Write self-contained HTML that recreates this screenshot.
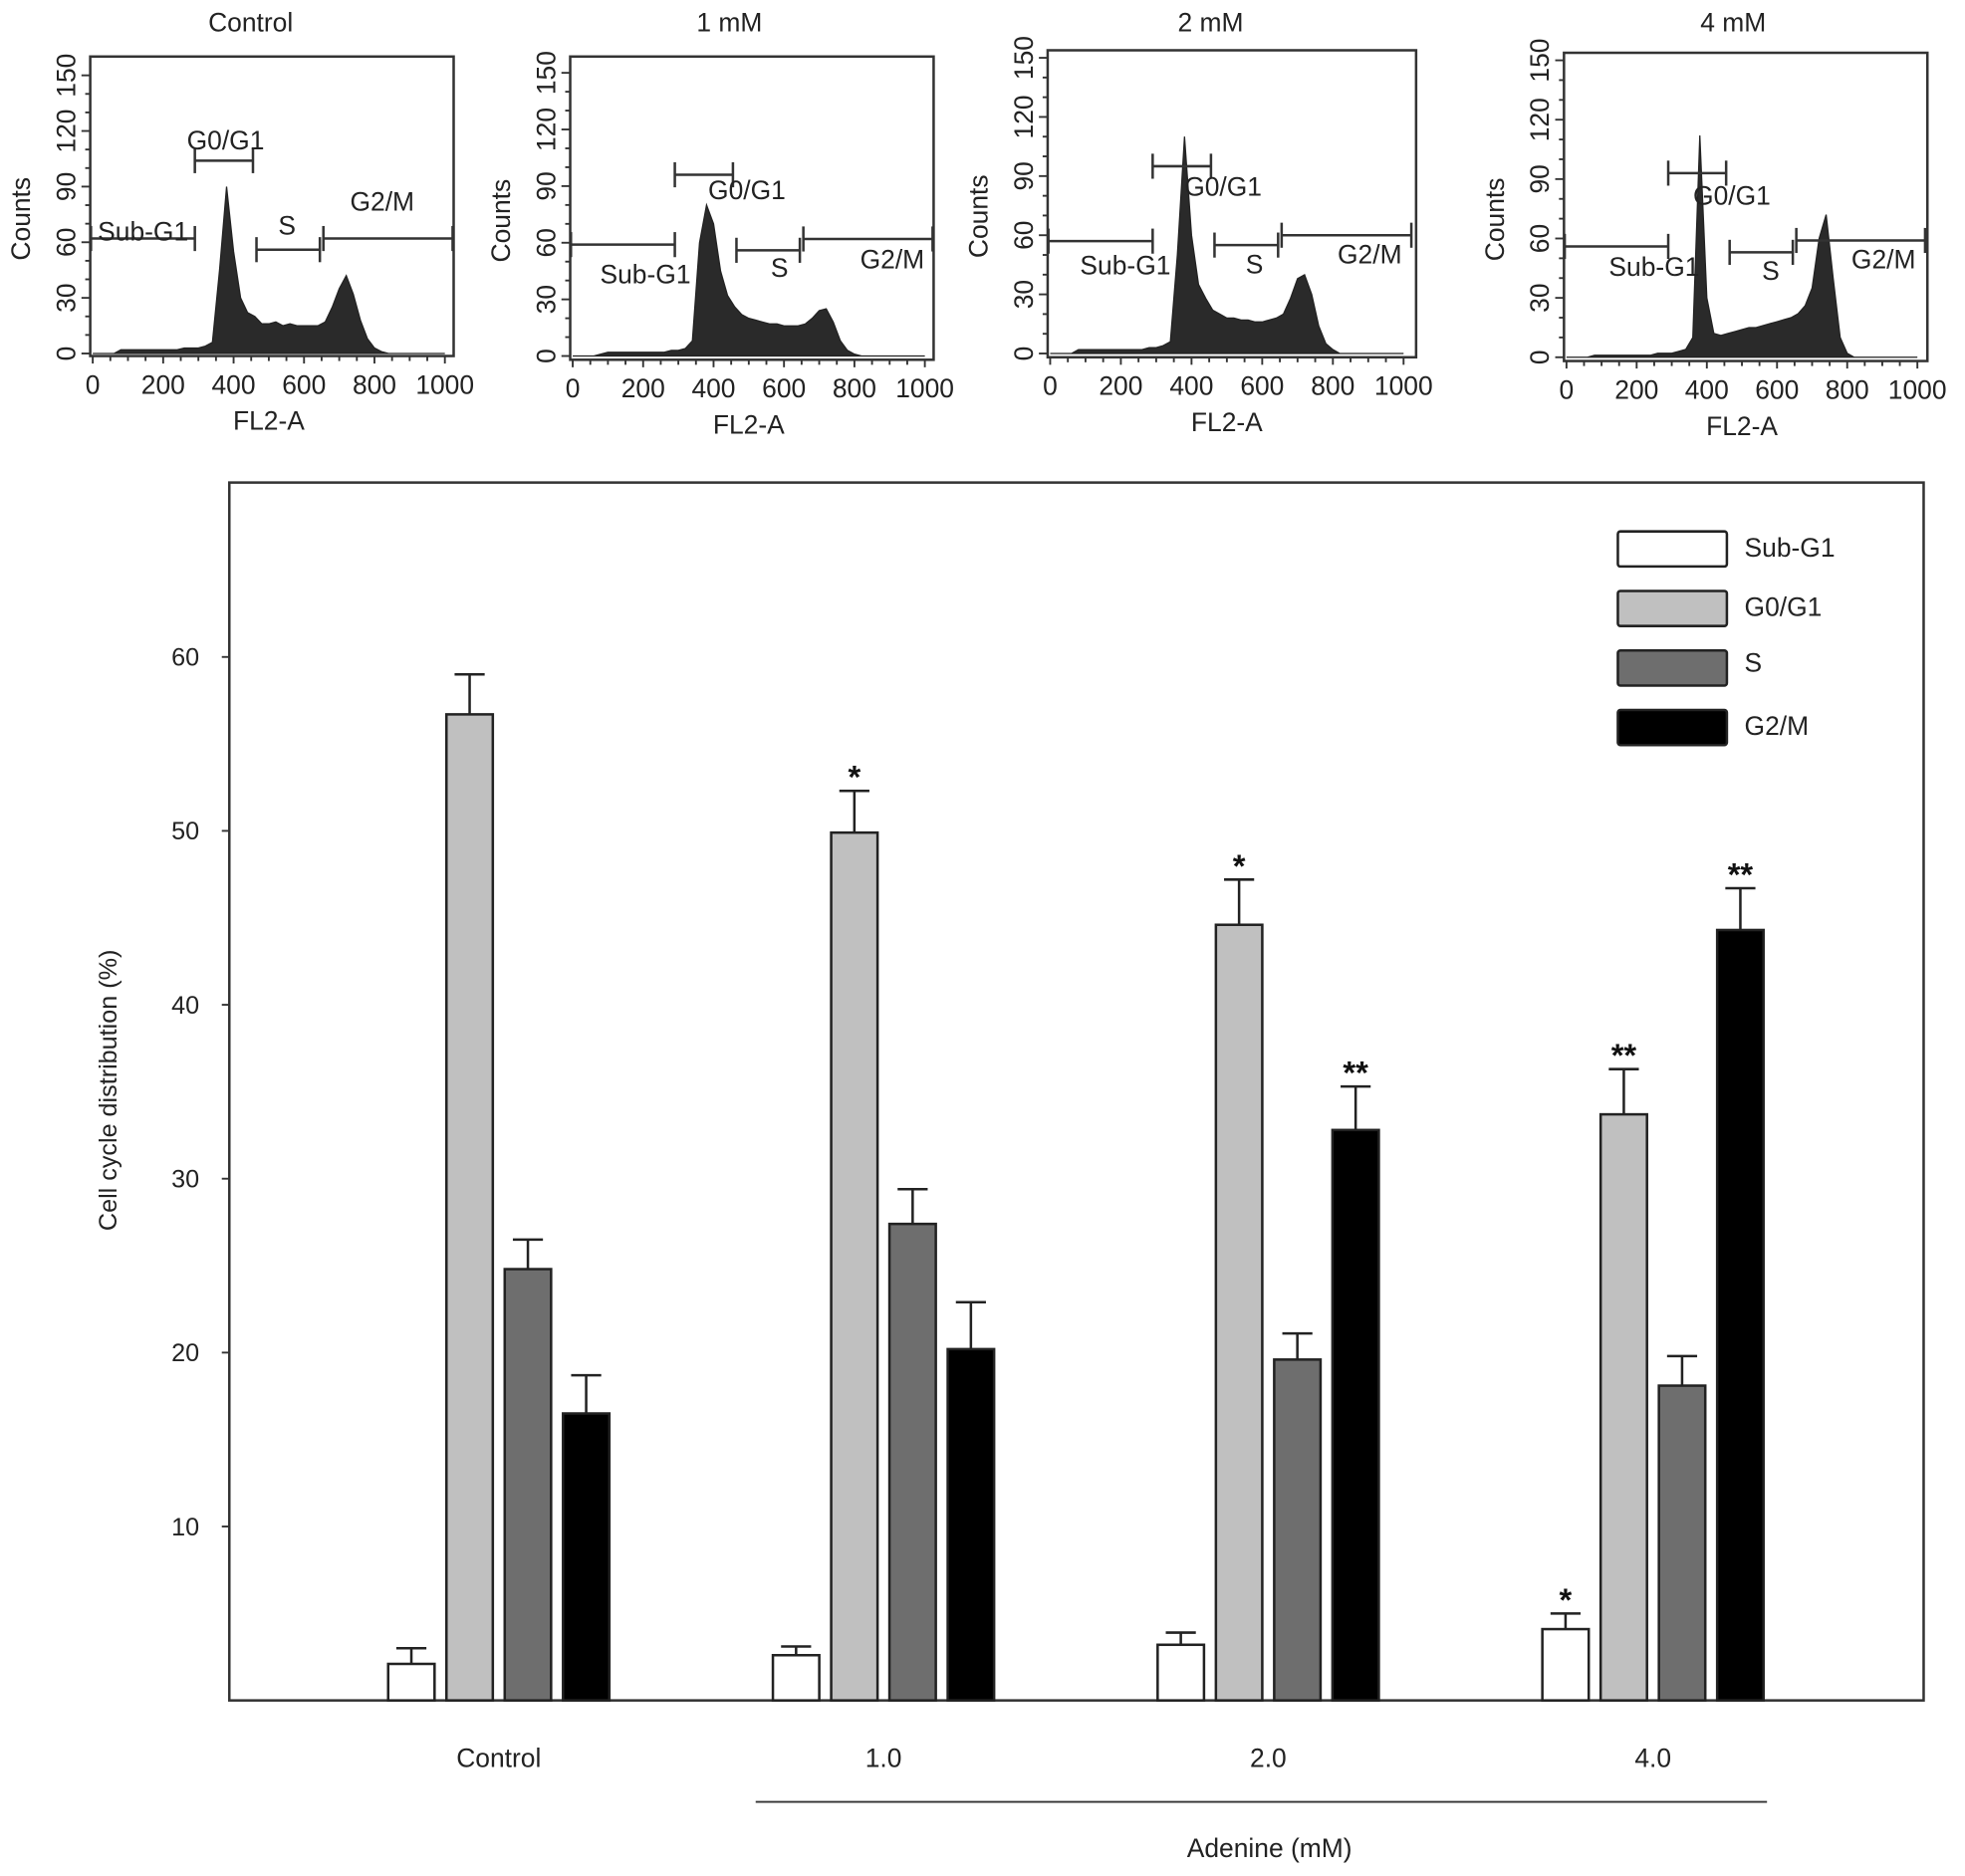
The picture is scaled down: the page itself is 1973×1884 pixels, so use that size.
<!DOCTYPE html>
<html><head><meta charset="utf-8"><style>
html,body{margin:0;padding:0;background:#fff;}
svg{display:block;font-family:"Liberation Sans",Arial,sans-serif;}
</style></head><body>
<svg id="fig" width="1973" height="1884" viewBox="0 0 1568 1497" xmlns="http://www.w3.org/2000/svg">
<rect x="0" y="0" width="1568" height="1497" fill="#fff"/>
<g id="hists"></g>
<g id="bars"></g>
</svg>
<script>
// ---------- Histogram data (counts at channel 0,20,...,1000) ----------
const histChannels = [0,20,40,60,80,100,120,140,160,180,200,220,240,260,280,300,320,340,360,380,400,420,440,460,480,500,520,540,560,580,600,620,640,660,680,700,720,740,760,780,800,820,840,860,880,900,920,940,960,980,1000];
const histControl = [0,0,0,0,2,2,2,2,2,2,2,2,2,3,3,3,4,6,45,90,55,30,22,20,16,16,17,15,16,15,15,15,15,17,25,35,42,32,18,8,3,1,0,0,0,0,0,0,0,0,0];
const hist1mM = [0,0,0,0,1,2,2,2,2,2,2,2,2,2,3,3,4,8,60,80,70,45,32,26,22,20,19,18,17,17,16,16,16,17,20,24,25,18,8,3,1,0,0,0,0,0,0,0,0,0,0];
const hist2mM = [0,0,0,0,2,2,2,2,2,2,2,2,2,2,3,3,4,6,50,110,60,35,28,22,20,18,18,17,17,16,16,17,18,20,28,38,40,30,14,5,2,0,0,0,0,0,0,0,0,0,0];
const hist4mM = [0,0,0,0,1,1,1,1,1,1,1,1,1,2,2,2,3,4,10,112,30,12,11,12,13,14,15,15,16,17,18,19,20,22,26,35,60,72,40,10,2,0,0,0,0,0,0,0,0,0,0];
const histTitles = ["Control","1 mM","2 mM","4 mM"];
const histSeries = [histControl, hist1mM, hist2mM, hist4mM];
const histXTicks = [0,200,400,600,800,1000];
const histYTicks = [0,30,60,90,120,150];
// gate count levels: subG1, G0/G1, S, G2/M
const gateLevels = [[62,104,56,62],[59,96,56,62],[57,95,55,60],[56,93,53,59]];

// ---------- Bar chart data ----------
const barGroups = ["Control","1.0","2.0","4.0"];
const barPhases = ["Sub-G1","G0/G1","S","G2/M"];
const subG1 = [2.1,2.6,3.2,4.1];
const g0g1 = [56.7,49.9,44.6,33.7];
const sPhase = [24.8,27.4,19.6,18.1];
const g2m = [16.5,20.2,32.8,44.3];
const subG1Err = [0.9,0.5,0.7,0.9];
const g0g1Err = [2.3,2.4,2.6,2.6];
const sPhaseErr = [1.7,2.0,1.5,1.7];
const g2mErr = [2.2,2.7,2.5,2.4];
const subG1Sig = ["","","","*"];
const g0g1Sig = ["","*","*","**"];
const sPhaseSig = ["","","",""];
const g2mSig = ["","","**","**"];
const barYTicks = [10,20,30,40,50,60];

const NS="http://www.w3.org/2000/svg";
function mk(tag, attrs, parent){const e=document.createElementNS(NS,tag);for(const k in attrs)e.setAttribute(k,attrs[k]);parent.appendChild(e);return e;}

// ---------- Histograms ----------
const panels = [
 {tx:200,x0:74,x1000:355,y0:282,y150:60,bx:[72,362],by:[45,284],labels:{sub:[78,192,"start"],g0:[180,119,"middle"],s:[229,187,"middle"],g2:[305,168,"middle"]}},
 {tx:582,x0:457,x1000:738,y0:284,y150:58,bx:[455,745],by:[45,287],labels:{sub:[515,226,"middle"],g0:[596,159,"middle"],s:[622,221,"middle"],g2:[712,214,"middle"]}},
 {tx:966,x0:838,x1000:1120,y0:282,y150:46,bx:[836,1130],by:[40,285],labels:{sub:[898,219,"middle"],g0:[976,156,"middle"],s:[1001,218,"middle"],g2:[1093,210,"middle"]}},
 {tx:1383,x0:1250,x1000:1530,y0:285,y150:48,bx:[1248,1538],by:[42,288],labels:{sub:[1320,220,"middle"],g0:[1382,163,"middle"],s:[1413,223,"middle"],g2:[1503,214,"middle"]}}
];
const FS=21;
const hg=document.getElementById('hists');
panels.forEach((p,i)=>{
  const g=mk('g',{},hg);
  
  
  const X=c=>p.x0+(p.x1000-p.x0)*c/1000;
  const Y=v=>p.y0-(p.y0-p.y150)*v/150;
  const t=mk('text',{x:p.tx,y:25,'text-anchor':'middle','font-size':FS,fill:'#222'},g);t.textContent=histTitles[i];
  
  
  const d=histSeries[i];
  let path='M'+X(histChannels[0])+','+Y(0);
  d.forEach((v,j)=>{path+=' L'+X(histChannels[j]).toFixed(1)+','+Y(v).toFixed(1);});
  path+=' L'+X(histChannels[histChannels.length-1])+','+Y(0)+'Z';
  const a=mk('path',{d:path,fill:'#2a2a2a',stroke:'#222','stroke-width':1},g);
  
  
  const b=mk('rect',{x:p.bx[0],y:p.by[0],width:p.bx[1]-p.bx[0],height:p.by[1]-p.by[0],fill:'none',stroke:'#333','stroke-width':2},g);
  
  
  for(let c=0;c<=1000;c+=50){const maj=c%200==0;mk('line',{x1:X(c),x2:X(c),y1:p.by[1],y2:p.by[1]+(maj?6:4),stroke:'#333','stroke-width':1.5},g);}
  histXTicks.forEach(c=>{const tt=mk('text',{x:X(c),y:p.by[1]+30,'text-anchor':'middle','font-size':FS,fill:'#222'},g);tt.textContent=c;
    
    });
  for(let v=0;v<=150;v+=10){const maj=v%30==0;mk('line',{x1:p.bx[0],x2:p.bx[0]-(maj?7:4),y1:Y(v),y2:Y(v),stroke:'#333','stroke-width':1.5},g);}
  histYTicks.forEach(v=>{const tx=p.bx[0]-12;const tt=mk('text',{x:tx,y:Y(v),'text-anchor':'middle','font-size':FS,fill:'#222',transform:'rotate(-90 '+tx+' '+Y(v)+')'},g);tt.textContent=v;
    
    });
  const xl=mk('text',{x:X(500),y:p.by[1]+59,'text-anchor':'middle','font-size':FS,fill:'#222'},g);xl.textContent='FL2-A';
  
  
  const yx=p.bx[0]-48, yy=(p.by[0]+p.by[1])/2+10;
  const yl=mk('text',{x:yx,y:yy,'text-anchor':'middle','font-size':FS,fill:'#222',transform:'rotate(-90 '+yx+' '+yy+')'},g);yl.textContent='Counts';
  
  
  const gates=[[-5,290],[290,455],[465,645],[655,1022]];
  const names=['sub','g0','s','g2'];const texts=['Sub-G1','G0/G1','S','G2/M'];
  gates.forEach((gt,k)=>{
    const yv=Y(gateLevels[i][k]);
    const gg=mk('g',{stroke:'#333','stroke-width':2},g);
    
    
    mk('line',{x1:X(gt[0]),x2:X(gt[1]),y1:yv,y2:yv},gg);
    mk('line',{x1:X(gt[0]),x2:X(gt[0]),y1:yv-10,y2:yv+10},gg);
    mk('line',{x1:X(gt[1]),x2:X(gt[1]),y1:yv-10,y2:yv+10},gg);
    const L=p.labels[names[k]];
    const lt=mk('text',{x:L[0],y:L[1],'text-anchor':L[2],'font-size':FS,fill:'#222'},g);lt.textContent=texts[k];
    
    
  });
});

// ---------- Bar chart ----------
const bg=document.getElementById('bars');
const plot={l:183,r:1535,t:385,b:1357};
const yScale=v=>plot.b-v*13.88;
const groupCenter=i=>398+i*307;
const barW=37, barStep=46.5;
const fills=['#ffffff','#c0c0c0','#6e6e6e','#000000'];
const series=[subG1,g0g1,sPhase,g2m];
const errs=[subG1Err,g0g1Err,sPhaseErr,g2mErr];
const sigs=[subG1Sig,g0g1Sig,sPhaseSig,g2mSig];
const frame=mk('rect',{x:plot.l,y:plot.t,width:plot.r-plot.l,height:plot.b-plot.t,fill:'none',stroke:'#333','stroke-width':2},bg);


barYTicks.forEach(v=>{
  mk('line',{x1:plot.l-6,x2:plot.l,y1:yScale(v),y2:yScale(v),stroke:'#333','stroke-width':1.5},bg);
  const t=mk('text',{x:plot.l-24,y:yScale(v)+7,'text-anchor':'end','font-size':20,fill:'#222'},bg);t.textContent=v;
  
  
});
const yt=mk('text',{x:93,y:870,'text-anchor':'middle','font-size':20,fill:'#222',transform:'rotate(-90 93 870)'},bg);yt.textContent='Cell cycle distribution (%)';


barGroups.forEach((gname,i)=>{
  const t=mk('text',{x:groupCenter(i),y:1410,'text-anchor':'middle','font-size':21,fill:'#222'},bg);t.textContent=gname;
  
  
  series.forEach((s,k)=>{
    const x=groupCenter(i)-1.5*barStep-barW/2+k*barStep;
    const top=yScale(s[i]);
    const r=mk('rect',{x:x,y:top,width:barW,height:plot.b-top,fill:fills[k],stroke:'#222','stroke-width':2},bg);
    
    
    const ey=yScale(s[i]+errs[k][i]);const cx=x+barW/2;
    const eb=mk('path',{d:'M'+cx+','+top+' V'+ey+' M'+(cx-12)+','+ey+' H'+(cx+12),stroke:'#222','stroke-width':2,fill:'none'},bg);
    
    
    if(sigs[k][i]){
      const st=mk('text',{x:cx,y:ey-2,'text-anchor':'middle','font-size':26,'font-weight':'bold',fill:'#111'},bg);st.textContent=sigs[k][i];
      
      
    }
  });
});
const gl=mk('line',{x1:603,x2:1410,y1:1438,y2:1438,stroke:'#333','stroke-width':1.5},bg);


const at=mk('text',{x:1013,y:1482,'text-anchor':'middle','font-size':21,fill:'#222'},bg);at.textContent='Adenine (mM)';


barPhases.forEach((ph,k)=>{
  const y=424+k*47.5;
  const lg=mk('g',{},bg);
  
  
  mk('rect',{x:1291,y:y,width:87,height:28,rx:2,fill:fills[k],stroke:'#222','stroke-width':2},lg);
  const t=mk('text',{x:1392,y:y+(k==2?17:20),'font-size':21,fill:'#222'},lg);t.textContent=ph;
});
</script>
</body></html>
